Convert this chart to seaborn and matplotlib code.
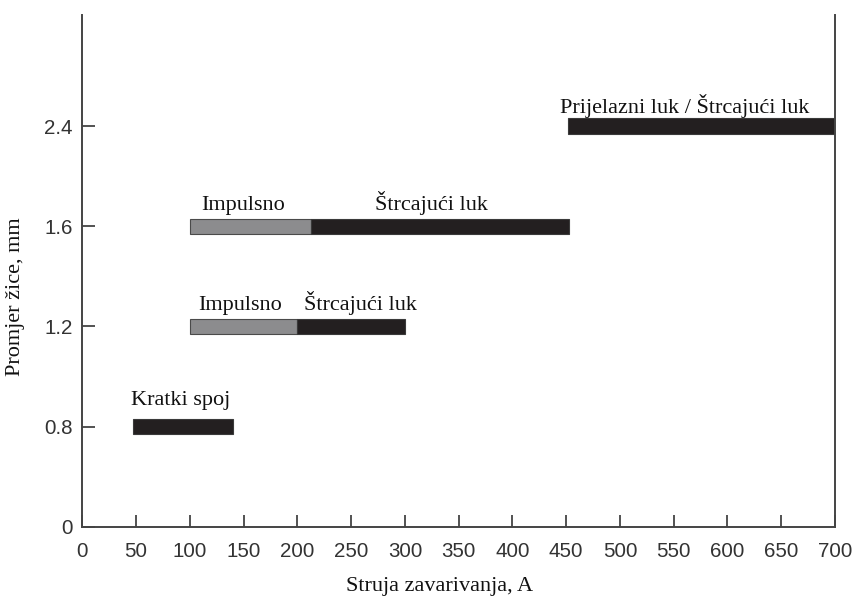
import pandas as pd
import matplotlib
matplotlib.use("Agg")
import matplotlib.pyplot as plt
import seaborn as sns

sns.set_style("white")

# wire diameters (categorical y axis, bottom to top)
diameters = ['0', '0.8', '1.2', '1.6', '2.4']

# current ranges per transfer mode, A
seg_diameter = ['0.8', '1.2', '1.2', '1.6', '1.6', '2.4']
seg_start = [47, 100, 200, 100, 213, 452]
seg_end = [140, 200, 300, 213, 453, 700]
seg_mode = ['short', 'pulse', 'spray', 'pulse', 'spray', 'spray']

# text labels above bars
label_text = ['Kratki spoj', 'Impulsno', 'Štrcajući luk', 'Impulsno',
              'Štrcajući luk', 'Prijelazni luk / Štrcajući luk']
label_diameter = ['0.8', '1.2', '1.2', '1.6', '1.6', '2.4']
label_x = [45, 108, 206, 111, 272, 444]

mode_colors = {'short': '#231f20', 'spray': '#231f20', 'pulse': '#8c8c8e'}
mode_edges = {'short': '#3a3a3a', 'spray': '#3a3a3a', 'pulse': '#4a4a4a'}

serif = ['Liberation Serif', 'DejaVu Serif']
sans = ['Liberation Sans', 'DejaVu Sans']

segs = pd.DataFrame({'diameter': seg_diameter, 'start': seg_start,
                     'end': seg_end, 'mode': seg_mode})
segs['length'] = segs['end'] - segs['start']

fig = plt.figure(figsize=(8.58, 5.99), dpi=100)
ax = fig.add_axes([0.0959, 0.1207, 0.8773, 0.8543])

for _, row in segs.iterrows():
    sns.barplot(data=pd.DataFrame([row]), x='length', y='diameter',
                order=diameters, orient='h', width=0.155, ax=ax,
                color=mode_colors[row['mode']], left=row['start'],
                edgecolor=mode_edges[row['mode']], linewidth=0.8,
                saturation=1, errorbar=None)

pos = {d: i for i, d in enumerate(diameters)}
for txt, d, x in zip(label_text, label_diameter, label_x):
    off = 0.22 if d == '0.8' else (0.135 if d == '2.4' else 0.165)
    ax.text(x, pos[d] + off, txt, family=serif, fontsize=16,
            color='#111111', va='baseline', ha='left')

ax.set_xlim(0, 700)
ax.set_ylim(0, 5.11)
ax.set_xticks(range(0, 701, 50))
ax.set_yticks(range(len(diameters)))
ax.set_yticklabels(diameters)

for lab in ax.get_xticklabels() + ax.get_yticklabels():
    lab.set_family(sans)
    lab.set_fontsize(14.8)
    lab.set_color('#333333')

ax.tick_params(axis='x', direction='in', length=9, width=1.3, color='#444444', pad=11)
ax.tick_params(axis='y', direction='in', length=9, width=1.3, color='#444444', pad=7)
ax.tick_params(left=True, bottom=True)

for side in ['left', 'right', 'bottom']:
    ax.spines[side].set_visible(True)
    ax.spines[side].set_color('#444444')
    ax.spines[side].set_linewidth(1.4)
ax.spines['top'].set_visible(False)

ax.set_xlabel('Struja zavarivanja, A', family=serif, fontsize=16, color='#111111')
ax.set_ylabel('Promjer žice, mm', family=serif, fontsize=16, color='#111111')
ax.xaxis.set_label_coords(0.4746, -0.098)
ax.yaxis.set_label_coords(-0.076, 0.45)

fig.savefig('out.png', dpi=100)
